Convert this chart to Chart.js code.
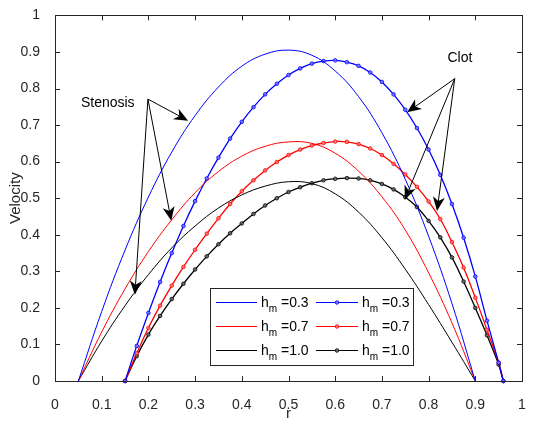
<!DOCTYPE html>
<html>
<head>
<meta charset="utf-8">
<script src="https://cdn.jsdelivr.net/npm/chart.js@4.4.0/dist/chart.umd.min.js"></script>
<style>
  html, body { margin: 0; padding: 0; background: #fff; }
</style>
</head>
<body>
<canvas id="velocityChart" width="541" height="423"></canvas>
<script>
// stenosis profiles (plain lines)
const stenosisR = [0.05, 0.10, 0.15, 0.20, 0.25, 0.30, 0.35, 0.40, 0.45, 0.50, 0.55, 0.60, 0.65, 0.70, 0.75, 0.80, 0.85, 0.90];
const stenosisH03 = [0, 0.190, 0.358, 0.503, 0.626, 0.726, 0.804, 0.861, 0.894, 0.905, 0.891, 0.848, 0.778, 0.679, 0.552, 0.396, 0.212, 0];
const stenosisH07 = [0, 0.134, 0.252, 0.354, 0.441, 0.515, 0.573, 0.615, 0.642, 0.654, 0.650, 0.623, 0.574, 0.504, 0.413, 0.296, 0.159, 0];
const stenosisH10 = [0, 0.109, 0.206, 0.291, 0.364, 0.424, 0.473, 0.509, 0.533, 0.545, 0.540, 0.512, 0.462, 0.392, 0.306, 0.209, 0.106, 0];

// clot profiles (lines with markers)
const clotR = [0.15, 0.175, 0.2, 0.225, 0.25, 0.275, 0.3, 0.325, 0.35, 0.375, 0.4, 0.425, 0.45, 0.475, 0.5, 0.525, 0.55, 0.575, 0.6, 0.625, 0.65, 0.675, 0.7, 0.725, 0.75, 0.775, 0.8, 0.825, 0.85, 0.875, 0.9, 0.925, 0.95, 0.96];
const clotH03 = [0, 0.096, 0.186, 0.271, 0.350, 0.424, 0.492, 0.554, 0.611, 0.663, 0.709, 0.749, 0.784, 0.813, 0.837, 0.855, 0.868, 0.875, 0.877, 0.872, 0.862, 0.844, 0.818, 0.784, 0.742, 0.692, 0.633, 0.564, 0.484, 0.392, 0.286, 0.165, 0.05, 0];
const clotH07 = [0, 0.076, 0.145, 0.206, 0.261, 0.312, 0.359, 0.403, 0.445, 0.484, 0.519, 0.549, 0.576, 0.599, 0.618, 0.633, 0.644, 0.651, 0.655, 0.654, 0.648, 0.636, 0.618, 0.594, 0.565, 0.531, 0.491, 0.443, 0.380, 0.310, 0.228, 0.140, 0.05, 0];
const clotH10 = [0, 0.068, 0.127, 0.178, 0.224, 0.266, 0.305, 0.341, 0.374, 0.404, 0.431, 0.457, 0.480, 0.500, 0.517, 0.530, 0.541, 0.549, 0.553, 0.555, 0.554, 0.549, 0.539, 0.524, 0.503, 0.476, 0.438, 0.393, 0.338, 0.272, 0.200, 0.125, 0.045, 0];

const hmLabels = ["0.3", "0.7", "1.0"];
const seriesColors = ["#0000ff", "#ff0000", "#000000"];
const markerFills = ["rgba(120,120,255,0.9)", "rgba(255,120,120,0.9)", "rgba(110,110,110,0.9)"];

// arrow annotations in data units
const stenosisText = { x: 0.113, y: 0.76 };
const stenosisFrom = { x: 0.199, y: 0.771 };
const stenosisTo = [{ x: 0.285, y: 0.712 }, { x: 0.249, y: 0.438 }, { x: 0.171, y: 0.236 }];
const clotText = { x: 0.867, y: 0.884 };
const clotFrom = { x: 0.856, y: 0.827 };
const clotTo = [{ x: 0.754, y: 0.735 }, { x: 0.749, y: 0.496 }, { x: 0.818, y: 0.465 }];

const FONT = '"Liberation Sans", Arial, Helvetica, sans-serif';
Chart.defaults.font.family = FONT;
Chart.defaults.color = "#262626";

function toPoints(xs, ys) {
  return xs.map((x, i) => ({ x: x, y: ys[i] }));
}

function tickText(v) {
  return String(Number(v.toFixed(1)));
}

const stenosisSets = [stenosisH03, stenosisH07, stenosisH10].map((vals, i) => ({
  label: "stenosis h_m=" + hmLabels[i],
  data: toPoints(stenosisR, vals),
  borderColor: seriesColors[i],
  borderWidth: 1,
  pointRadius: 0,
  tension: 0.4,
  fill: false,
}));

const clotSets = [clotH03, clotH07, clotH10].map((vals, i) => ({
  label: "clot h_m=" + hmLabels[i],
  data: toPoints(clotR, vals),
  borderColor: seriesColors[i],
  borderWidth: 1.3,
  pointRadius: 1.8,
  pointBorderWidth: 0.8,
  pointBorderColor: seriesColors[i],
  pointBackgroundColor: markerFills[i],
  tension: 0.4,
  fill: false,
  clip: 4,
}));

function drawArrow(ctx, x0, y0, x1, y1) {
  const dx = x1 - x0, dy = y1 - y0;
  const len = Math.hypot(dx, dy);
  const ux = dx / len, uy = dy / len;
  const nx = -uy, ny = ux;
  const L = 14, W = 6, notch = 4;
  ctx.beginPath();
  ctx.moveTo(x0, y0);
  ctx.lineTo(x1 - (L - notch) * ux, y1 - (L - notch) * uy);
  ctx.stroke();
  ctx.beginPath();
  ctx.moveTo(x1, y1);
  ctx.lineTo(x1 - L * ux + W * nx, y1 - L * uy + W * ny);
  ctx.lineTo(x1 - (L - notch) * ux, y1 - (L - notch) * uy);
  ctx.lineTo(x1 - L * ux - W * nx, y1 - L * uy - W * ny);
  ctx.closePath();
  ctx.fill();
}

const axesBox = {
  id: "axesBox",
  afterDatasetsDraw(chart) {
    const { ctx, chartArea: a, scales: { x, y } } = chart;
    ctx.save();
    ctx.strokeStyle = "#262626";
    ctx.lineWidth = 1;
    ctx.beginPath();
    x.ticks.forEach(t => {
      const px = Math.round(x.getPixelForValue(t.value)) + 0.5;
      ctx.moveTo(px, a.bottom); ctx.lineTo(px, a.bottom - 5);
      ctx.moveTo(px, a.top); ctx.lineTo(px, a.top + 5);
    });
    y.ticks.forEach(t => {
      const py = Math.round(y.getPixelForValue(t.value)) + 0.5;
      ctx.moveTo(a.left, py); ctx.lineTo(a.left + 5, py);
      ctx.moveTo(a.right, py); ctx.lineTo(a.right - 5, py);
    });
    ctx.stroke();
    ctx.strokeRect(Math.round(a.left) + 0.5, Math.round(a.top) + 0.5,
      Math.round(a.right - a.left), Math.round(a.bottom - a.top));
    ctx.restore();
  }
};

const arrowNotes = {
  id: "arrowNotes",
  afterDatasetsDraw(chart) {
    const { ctx, scales: { x, y } } = chart;
    ctx.save();
    ctx.strokeStyle = "#000";
    ctx.fillStyle = "#000";
    ctx.lineWidth = 1;
    const fx = x.getPixelForValue(stenosisFrom.x), fy = y.getPixelForValue(stenosisFrom.y);
    stenosisTo.forEach(p => drawArrow(ctx, fx, fy, x.getPixelForValue(p.x), y.getPixelForValue(p.y)));
    const cx = x.getPixelForValue(clotFrom.x), cy = y.getPixelForValue(clotFrom.y);
    clotTo.forEach(p => drawArrow(ctx, cx, cy, x.getPixelForValue(p.x), y.getPixelForValue(p.y)));
    ctx.font = "14px " + FONT;
    ctx.textAlign = "center";
    ctx.textBaseline = "middle";
    ctx.fillText("Stenosis", x.getPixelForValue(stenosisText.x), y.getPixelForValue(stenosisText.y));
    ctx.fillText("Clot", x.getPixelForValue(clotText.x), y.getPixelForValue(clotText.y));
    ctx.restore();
  }
};

// legend box drawn by hand for the h subscript m labels
const hmLegend = {
  id: "hmLegend",
  afterDraw(chart) {
    const { ctx } = chart;
    const box = { left: 210, top: 288, right: 413, bottom: 365 };
    ctx.save();
    ctx.fillStyle = "#fff";
    ctx.fillRect(box.left, box.top, box.right - box.left, box.bottom - box.top);
    ctx.strokeStyle = "#262626";
    ctx.lineWidth = 1;
    ctx.strokeRect(box.left + 0.5, box.top + 0.5, box.right - box.left, box.bottom - box.top);
    const cols = [{ x0: 216, x1: 257, tx: 261, marker: false }, { x0: 316, x1: 358, tx: 362, marker: true }];
    const rows = [302, 326, 350];
    rows.forEach((ry, i) => {
      cols.forEach(c => {
        ctx.strokeStyle = seriesColors[i];
        ctx.lineWidth = 1;
        ctx.beginPath();
        ctx.moveTo(c.x0, ry + 0.5);
        ctx.lineTo(c.x1, ry + 0.5);
        ctx.stroke();
        if (c.marker) {
          ctx.fillStyle = markerFills[i];
          ctx.beginPath();
          ctx.arc((c.x0 + c.x1) / 2, ry + 0.5, 1.8, 0, Math.PI * 2);
          ctx.fill();
          ctx.lineWidth = 0.8;
          ctx.stroke();
        }
        ctx.fillStyle = "#000";
        ctx.textAlign = "left";
        ctx.textBaseline = "alphabetic";
        ctx.font = "14px " + FONT;
        ctx.fillText("h", c.tx, ry + 5);
        const hw = ctx.measureText("h").width;
        ctx.font = "10px " + FONT;
        ctx.fillText("m", c.tx + hw, ry + 10);
        const mw = ctx.measureText("m").width;
        ctx.font = "14px " + FONT;
        ctx.fillText(" =" + hmLabels[i], c.tx + hw + mw, ry + 5);
      });
    });
    ctx.restore();
  }
};

const chart = new Chart(document.getElementById("velocityChart").getContext("2d"), {
  type: "line",
  data: { datasets: stenosisSets.concat(clotSets) },
  options: {
    responsive: false,
    devicePixelRatio: 1,
    animation: false,
    events: [],
    layout: { padding: { top: 10, right: 19, left: 0, bottom: 0 } },
    plugins: {
      legend: { display: false },
      tooltip: { enabled: false },
    },
    scales: {
      x: {
        type: "linear",
        min: 0,
        max: 1,
        ticks: { stepSize: 0.1, padding: 8, font: { size: 14 }, color: "#262626", maxRotation: 0, callback: tickText },
        grid: { display: false },
        border: { display: false },
        title: { display: true, text: "r", font: { size: 15 }, color: "#262626", padding: { top: 0, bottom: 0 } },
        afterFit(scale) { scale.height = 42; },
      },
      y: {
        min: 0,
        max: 1,
        ticks: { stepSize: 0.1, padding: 7, font: { size: 14 }, color: "#262626", callback: tickText },
        grid: { display: false },
        border: { display: false },
        title: { display: true, text: "Velocity", font: { size: 15 }, color: "#262626", padding: { top: 7, bottom: 0 } },
        afterFit(scale) { scale.width = 55; },
      },
    },
  },
  plugins: [axesBox, arrowNotes, hmLegend],
});
</script>
</body>
</html>
